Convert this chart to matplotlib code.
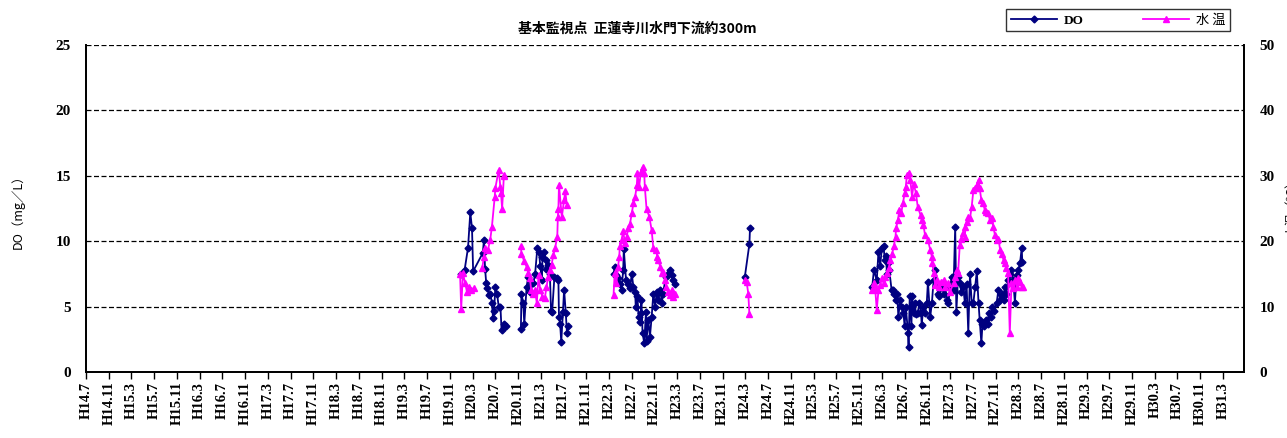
import numpy as np
import matplotlib.pyplot as plt
from matplotlib.lines import Line2D

nan = float("nan")

# x = months counted from H14.7, nan marks a break between survey periods
do_months = [66.0, 66.6, 67.2, 67.6, 67.9, 68.1, 69.8, 70.0, 70.2, 70.4, 70.6, 70.9,
             71.1, 71.4, 71.6, 71.8, 72.0, 72.3, 72.6, 72.9, 73.1, 73.5, 73.8, nan,
             76.5, 76.6, 76.9, 77.1, 77.5, 77.8, 78.1, 78.7, 79.0, 79.4, 79.7, 79.9,
             80.2, 80.3, 80.6, 80.9, 81.0, 81.3, 81.6, 81.8, 82.0, 82.4, 82.8, 83.1,
             83.2, 83.4, 83.6, 83.9, 84.1, 84.4, 84.6, 84.7, nan,
             92.8, 93.0, 93.3, 93.6, 93.9, 94.2, 94.5, 94.6, 95.0, 95.4, 95.7, 96.0,
             96.3, 96.6, 96.7, 97.0, 97.2, 97.4, 97.6, 97.7, 97.9, 98.2, 98.5, 98.6,
             98.9, 99.2, 99.5, 99.8, 100.1, 100.4, 100.7, 101.0, 101.3, 101.5, 102.0,
             102.4, 102.7, 103.0, 103.3, 103.6, nan,
             115.9, 116.7, 116.8, nan,
             138.3, 138.6, 139.1, 139.4, 139.7, 140.0, 140.3, 140.5, 140.7, 140.9,
             141.1, 141.3, 141.7, 141.9, 142.1, 142.4, 142.7, 142.9, 143.2, 143.5,
             143.8, 144.0, 144.2, 144.6, 144.7, 144.9, 145.2, 145.3, 145.6, 145.8,
             146.0, 146.3, 146.6, 146.9, 147.0, 147.3, 147.6, 147.9, 148.1, 148.5,
             148.8, 149.1, 149.4, 149.9, 150.1, 150.6, 150.9, 151.1, 151.5, 151.7,
             152.0, 152.3, 152.6, 152.9, 153.1, 153.4, 153.7, 154.0, 154.3, 154.6,
             154.9, 155.2, 155.5, 155.8, 156.1, 156.4, 156.7, 157.0, 157.2, 157.5,
             157.7, 158.0, 158.3, 158.6, 158.8, 159.2, 159.4, 159.8, 160.2, 160.5,
             160.8, 161.1, 161.4, 161.6, 161.9, 162.2, 162.5, 162.8, 163.1, 163.4,
             163.7, 164.0, 164.3, 164.6, 164.7]
do_values = [7.5, 7.8, 9.5, 12.2, 11.0, 7.7, 9.1, 10.1, 7.9, 6.8, 6.4, 5.9,
             6.0, 5.3, 4.1, 4.7, 6.5, 6.0, 5.0, 5.0, 3.2, 3.7, 3.5, nan,
             3.3, 6.0, 5.3, 3.7, 6.5, 7.3, 6.1, 6.8, 7.5, 9.5, 9.2, 8.1,
             7.0, 8.8, 9.2, 8.6, 7.9, 8.2, 7.5, 4.7, 4.6, 7.3, 7.2, 7.0,
             4.2, 3.7, 2.3, 4.6, 6.3, 4.5, 3.0, 3.5, nan,
             7.5, 8.0, 7.4, 7.2, 6.7, 6.3, 7.8, 9.4, 7.0, 6.7, 6.4, 7.5,
             6.5, 6.1, 5.0, 5.8, 4.2, 3.8, 4.5, 5.5, 3.0, 2.2, 4.6, 2.4,
             4.0, 2.7, 4.2, 6.0, 5.0, 6.1, 5.5, 6.3, 5.3, 6.0, 7.3,
             7.5, 7.8, 7.4, 7.0, 6.7, nan,
             7.3, 9.8, 11.0, nan,
             6.5, 7.8, 7.0, 9.2, 8.1, 9.5, 9.6, 8.6, 8.9, 7.5,
             8.3, 7.8, 6.3, 6.3, 6.0, 5.5, 6.0, 4.2, 5.5, 5.0,
             4.5, 3.5, 5.0, 3.0, 1.9, 5.8, 3.5, 5.8, 4.5, 5.3,
             4.4, 4.5, 5.3, 4.5, 3.6, 5.0, 4.5, 5.3, 6.9, 4.2,
             5.3, 7.0, 7.8, 6.0, 5.8, 6.5, 6.0, 6.5, 5.5, 5.3,
             6.5, 7.3, 6.3, 11.1, 4.6, 7.3, 6.8, 6.1, 6.5, 5.3,
             6.7, 3.0, 7.5, 5.3, 5.3, 6.5, 7.7, 5.3, 4.0, 2.2,
             3.7, 3.5, 4.0, 3.7, 4.5, 4.2, 5.0, 4.7, 5.3, 6.3,
             5.5, 6.0, 5.5, 6.5, 6.0, 7.0, 7.5, 7.8, 7.0, 5.3,
             7.4, 7.8, 8.3, 9.5, 8.4]

wt_months = [65.8, 66.0, 66.3, 66.7, 67.0, 67.3, 67.8, 68.2, nan,
             69.7, 70.0, 70.2, 70.7, 71.1, 71.4, 71.9, 72.0, 72.6, 72.9, 73.0,
             73.2, 73.5, 73.6, nan,
             76.5, 76.6, 77.1, 77.5, 77.8, 78.1, 78.3, 78.7, 79.0, 79.3, 79.6,
             79.9, 80.3, 80.7, 81.0, 81.3, 81.6, 81.9, 82.2, 82.5, 82.9, 83.0,
             83.1, 83.2, 83.7, 84.1, 84.3, 84.6, nan,
             92.8, 93.0, 93.3, 93.6, 93.8, 93.9, 94.2, 94.5, 94.8, 95.1, 95.4,
             95.7, 96.0, 96.3, 96.6, 96.9, 97.0, 97.3, 97.6, 97.9, 98.2, 98.3,
             98.6, 99.1, 99.5, 99.8, 100.3, 100.5, 100.7, 101.0, 101.3, 101.5,
             101.8, 102.1, 102.4, 102.7, 103.0, 103.3, 103.6, nan,
             115.9, 116.2, 116.5, 116.7, nan,
             138.3, 138.6, 138.8, 139.1, 139.4, 139.7, 140.0, 140.3, 140.6, 140.9,
             141.2, 141.5, 141.8, 142.1, 142.4, 142.5, 142.8, 143.1, 143.4, 143.7,
             144.0, 144.2, 144.4, 144.7, 145.0, 145.3, 145.6, 146.0, 146.3, 146.8,
             147.0, 147.3, 147.6, 148.1, 148.5, 148.8, 148.9, 149.1, 149.4, 149.7,
             150.0, 150.4, 150.9, 151.1, 151.6, 152.0, 152.6, 152.9, 153.2, 153.4,
             153.7, 154.0, 154.3, 154.6, 154.7, 154.9, 155.2, 155.5, 155.8, 156.1,
             156.4, 156.7, 157.0, 157.2, 157.5, 157.8, 158.1, 158.4, 158.7, 159.0,
             159.3, 159.6, 159.9, 160.2, 160.5, 160.8, 161.1, 161.4, 161.6, 161.9,
             162.2, 162.5, 162.8, 163.1, 163.4, 163.7, 164.0, 164.3, 164.6, 164.9]
wt_values = [15.0, 9.7, 15.1, 13.6, 12.3, 13.0, 12.6, 12.8, nan,
             15.9, 17.6, 18.9, 18.7, 20.2, 22.2, 26.8, 28.1, 30.9, 28.3, 27.3,
             25.0, 29.9, 30.1, nan,
             19.2, 18.1, 16.9, 16.1, 15.1, 14.3, 12.5, 12.0, 12.5, 10.5, 14.8,
             12.5, 11.5, 11.3, 13.0, 14.6, 15.6, 16.4, 17.9, 18.9, 20.7, 23.7,
             25.0, 28.6, 23.7, 26.3, 27.6, 25.5, nan,
             11.8, 15.1, 13.6, 16.1, 17.6, 19.2, 20.2, 21.5, 19.7, 20.7, 22.0,
             22.7, 24.3, 25.8, 26.8, 28.6, 30.4, 28.3, 30.6, 31.3, 30.4, 28.3,
             25.0, 23.7, 21.7, 18.9, 18.7, 17.6, 17.1, 16.1, 15.1, 15.3,
             14.1, 13.0, 12.3, 11.8, 12.5, 11.5, 12.0, nan,
             14.1, 13.8, 12.0, 8.8, nan,
             12.5, 13.6, 13.0, 9.5, 12.5, 13.3, 14.3, 13.6, 14.6, 15.1,
             15.9, 17.1, 18.1, 19.2, 20.7, 22.0, 23.2, 24.8, 24.3, 25.8,
             27.3, 28.3, 30.1, 30.4, 29.4, 26.8, 28.8, 27.3, 25.3, 24.0,
             23.2, 22.5, 20.9, 20.2, 18.7, 17.6, 16.6, 15.1, 13.3, 14.1,
             13.0, 13.8, 14.1, 13.0, 13.6, 12.3, 13.6, 14.6, 15.6, 15.1,
             19.4, 20.4, 21.2, 20.7, 22.2, 23.0, 23.7, 23.5, 25.3, 27.8,
             28.1, 28.6, 29.4, 28.1, 26.3, 25.8, 24.8, 24.5, 24.3, 23.2,
             23.5, 22.2, 20.9, 20.2, 20.4, 18.7, 18.1, 17.1, 16.6, 15.9,
             15.1, 5.9, 13.6, 12.8, 14.1, 13.0, 14.3, 13.8, 13.0, 13.0]

tick_labels = ["H14.7", "H14.11", "H15.3", "H15.7", "H15.11", "H16.3", "H16.7",
               "H16.11", "H17.3", "H17.7", "H17.11", "H18.3", "H18.7", "H18.11",
               "H19.3", "H19.7", "H19.11", "H20.3", "H20.7", "H20.11", "H21.3",
               "H21.7", "H21.11", "H22.3", "H22.7", "H22.11", "H23.3", "H23.7",
               "H23.11", "H24.3", "H24.7", "H24.11", "H25.3", "H25.7", "H25.11",
               "H26.3", "H26.7", "H26.11", "H27.3", "H27.7", "H27.11", "H28.3",
               "H28.7", "H28.11", "H29.3", "H29.7", "H29.11", "H30.3", "H30.7",
               "H30.11", "H31.3"]

serif = "Liberation Serif"
jp = ["Noto Sans CJK JP", "DejaVu Sans"]

fig = plt.figure(figsize=(12.87, 4.38), dpi=100)
ax = fig.add_axes([86 / 1287, 66 / 438, 1158 / 1287, 327 / 438])
ax2 = ax.twinx()

ax.plot(do_months, do_values, color="#000080", lw=1.3, marker="D", ms=3.5,
        zorder=3)
ax2.plot(wt_months, wt_values, color="#FF00FF", lw=1.3, marker="^", ms=5,
         zorder=3)

ax.set_xlim(0, 203.7)
ax.set_ylim(0, 25)
ax2.set_ylim(0, 50)
ax.set_xticks(np.arange(len(tick_labels)) * 4)
ax.set_xticklabels(tick_labels, rotation=90, fontfamily=serif,
                   fontweight="bold", fontsize=10.5)
ax.set_yticks([0, 5, 10, 15, 20, 25])
ax2.set_yticks([0, 10, 20, 30, 40, 50])
for a in (ax, ax2):
    for lab in a.get_yticklabels():
        lab.set_fontfamily(serif)
        lab.set_fontweight("bold")
        lab.set_fontsize(11)
ax.tick_params(axis="y", length=0, pad=11)
ax2.tick_params(axis="y", length=0, pad=11)
ax.tick_params(axis="x", length=5, width=1, direction="out", pad=2)

for y in [5, 10, 15, 20, 25]:
    ax.axhline(y, color="black", lw=0.9, ls=(0, (4, 2)), zorder=1)

for a in (ax, ax2):
    a.spines["top"].set_visible(False)
    for s in ("left", "right", "bottom"):
        a.spines[s].set_linewidth(1.3)

ax.set_ylabel("DO（mg／L）", family=jp, fontsize=9, labelpad=22)
fig.text(0.999, 0.53, "水温（℃）", family=jp, fontsize=9, rotation=90,
         ha="left", va="center")

fig.text(0.495, 0.935, "基本監視点  正蓮寺川水門下流約300m", family=jp,
         fontsize=10, fontweight="bold", ha="center", va="center")

handles = [Line2D([], [], color="#000080", lw=1.3, marker="D", ms=3.5),
           Line2D([], [], color="#FF00FF", lw=1.3, marker="^", ms=5)]
leg = fig.legend(handles, ["DO", "水 温"], ncol=2, loc="center",
                 bbox_to_anchor=(1118 / 1287, 1 - 20 / 438), frameon=True,
                 fancybox=False, edgecolor="black", handlelength=3.5,
                 columnspacing=4.5, borderpad=0.35, handletextpad=0.5,
                 prop={"family": jp, "size": 9.5})
leg.get_frame().set_linewidth(1.0)
leg.texts[0].set_fontfamily(serif)
leg.texts[0].set_fontweight("bold")

fig.savefig("out.png", dpi=100)
